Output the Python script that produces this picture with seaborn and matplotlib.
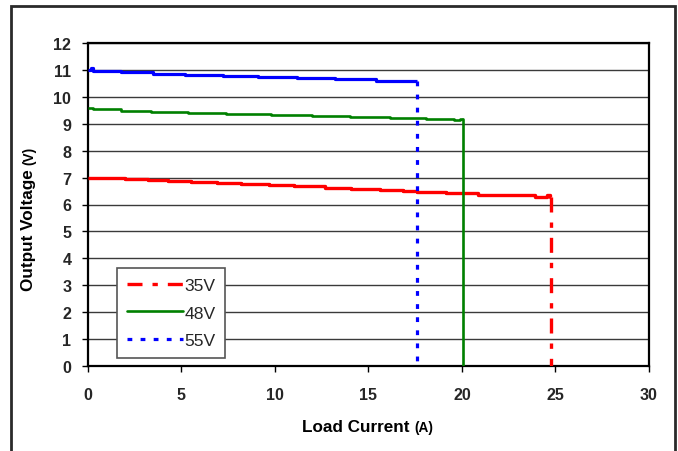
import matplotlib
matplotlib.use("Agg")
import matplotlib.pyplot as plt
import matplotlib.patches as mpatches
from matplotlib.lines import Line2D
import numpy as np
import pandas as pd
import seaborn as sns

# Load regulation curves: output voltage vs load current for three input voltages
series_names = ["35V", "48V", "55V"]
series_colors = ["#FF0000", "#008000", "#0000FF"]

current_35v = [0.0, 0.95, 2.0, 3.2, 4.3, 5.5, 6.9, 8.2, 9.7, 11.0, 12.66, 14.08, 15.6,
               16.86, 17.57, 17.93, 19.15, 20.85, 22.27, 23.9, 24.55, 24.68, 24.77]
voltage_35v = [7.00, 6.97, 6.93, 6.90, 6.86, 6.83, 6.80, 6.76, 6.73, 6.69, 6.63, 6.58, 6.54,
               6.50, 6.46, 6.48, 6.42, 6.37, 6.34, 6.29, 6.34, 6.27, 6.27]

current_48v = [0.0, 0.28, 1.79, 3.39, 5.34, 7.38, 9.77, 12.0, 14.0, 16.15, 18.1, 19.57, 19.9, 20.05]
voltage_48v = [9.58, 9.53, 9.48, 9.44, 9.41, 9.36, 9.31, 9.28, 9.25, 9.22, 9.18, 9.13, 9.17, 9.17]

current_55v = [0.0, 0.15, 0.25, 1.75, 3.5, 5.2, 7.2, 9.1, 11.2, 13.2, 15.4, 17.62]
voltage_55v = [10.99, 11.08, 10.97, 10.91, 10.86, 10.82, 10.78, 10.74, 10.70, 10.66, 10.60, 10.60]

# Current at which each supply drops out
dropout_current = [24.77, 20.05, 17.62]

x_ticks = [0, 5, 10, 15, 20, 25, 30]
y_ticks = list(range(0, 13))

W, H = 678, 452
DPI = 100
sns.set_style("white")
plt.rcParams["font.family"] = ["Liberation Sans", "DejaVu Sans"]

fig = plt.figure(figsize=(W / DPI, H / DPI), dpi=DPI)
ax = fig.add_axes([88 / W, 1 - 367 / H, (649 - 88) / W, (367 - 44) / H])

curves = [(current_35v, voltage_35v), (current_48v, voltage_48v), (current_55v, voltage_55v)]
drop_styles = [(0, (4.5, 3.0, 1.6, 3.0)), "-", (0, (1.5, 2.6))]
widths = [2.4, 1.9, 2.3]

for name, color, (cx, cv), x_end, ls, lw in zip(series_names, series_colors, curves,
                                                 dropout_current, drop_styles, widths):
    df = pd.DataFrame({"current": cx, "voltage": cv})
    sns.lineplot(data=df, x="current", y="voltage", ax=ax, color=color, lw=lw,
                 estimator=None, sort=False, drawstyle="steps-post", legend=False,
                 solid_capstyle="butt", zorder=3)
    drop = pd.DataFrame({"current": [x_end, x_end], "voltage": [cv[-1], 0.0]})
    sns.lineplot(data=drop, x="current", y="voltage", ax=ax, color=color, lw=lw,
                 estimator=None, sort=False, legend=False, linestyle=ls,
                 dash_capstyle="butt", zorder=3)

ax.set_xlim(0, 30)
ax.set_ylim(0, 12)
ax.set_xticks(x_ticks)
ax.set_yticks(y_ticks)
ax.set_xticklabels([str(t) for t in x_ticks], fontweight="bold", fontsize=11.6)
ax.set_yticklabels([str(t) for t in y_ticks], fontweight="bold", fontsize=11.6)
ax.tick_params(axis="both", direction="out", length=4.5, width=1.0, color="black",
               bottom=True, left=True)
ax.tick_params(axis="y", pad=7.5)
ax.tick_params(axis="x", pad=10.5)
ax.yaxis.grid(True, color="#3a3a3a", lw=1.0)
ax.xaxis.grid(False)
ax.set_axisbelow(True)
for sp in ax.spines.values():
    sp.set_visible(True)
    sp.set_color("black")
    sp.set_linewidth(1.6)
ax.set_xlabel("")
ax.set_ylabel("")

# Legend with the line styles used for the dropout segments
handles = [Line2D([0], [0], color=c, lw=lw, linestyle=ls, dash_capstyle="butt")
           for c, ls, lw in zip(series_colors, drop_styles, widths)]
leg = ax.legend(handles, series_names, loc="lower left",
                bbox_to_anchor=(117 / W, 1 - 359 / H), bbox_transform=fig.transFigure,
                borderaxespad=0, fancybox=False, framealpha=1, edgecolor="#555555",
                prop={"size": 12.6}, handlelength=3.2, handletextpad=0.12,
                labelspacing=0.72, borderpad=0.55)
leg.get_frame().set_linewidth(1.2)

# Axis titles with the unit set in a smaller size
fig.canvas.draw()
renderer = fig.canvas.get_renderer()

def mixed_label(cx, cy, main, unit, vertical=False):
    kw = dict(fontweight="bold", color="black", va="center", ha="left")
    if vertical:
        kw.update(rotation=90, ha="center", va="bottom")
    t1 = fig.text(0, 0, main + " ", fontsize=12.3, **kw)
    t2 = fig.text(0, 0, unit, fontsize=9.8, **kw)
    b1 = t1.get_window_extent(renderer)
    b2 = t2.get_window_extent(renderer)
    if vertical:
        total = b1.height + b2.height
        t1.set_position((cx / W, 1 - (cy + total / 2) / H))
        t2.set_position((cx / W, 1 - (cy + total / 2 - b1.height) / H))
    else:
        total = b1.width + b2.width
        x0 = cx - total / 2
        t1.set_position((x0 / W, 1 - cy / H))
        t2.set_position(((x0 + b1.width) / W, 1 - (cy + 0.5) / H))

mixed_label(368, 428, "Load Current", "(A)")
mixed_label(29, 219, "Output Voltage", "(V)", vertical=True)

# Outer chart frame
frame = mpatches.Rectangle((11 / W, -0.05), (675 - 11) / W, 1.05 - 7 / H,
                           transform=fig.transFigure, fill=False,
                           edgecolor="#2a2a2a", lw=2.0, zorder=10)
fig.patches.append(frame)

fig.savefig("out.png", dpi=DPI)
